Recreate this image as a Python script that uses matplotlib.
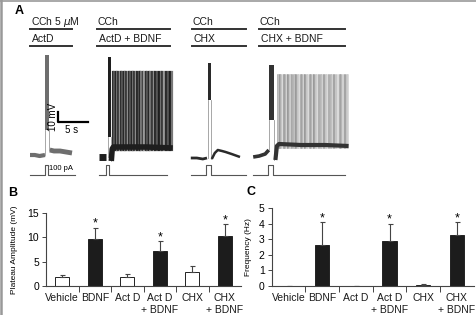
import matplotlib.pyplot as plt

plt.rcParams['font.family'] = ['Liberation Sans', 'DejaVu Sans']

W, H = 477, 315

# ---------------- panel A: example traces (s, mV, pA) ----------------
cond_top = ['CCh 5 $\\mu$M', 'CCh', 'CCh', 'CCh']
cond_bottom = ['ActD', 'ActD + BDNF', 'CHX', 'CHX + BDNF']

# trace 1: ActD
t1_pre, v1_pre = [0.0, 0.8, 1.6, 2.5], [-60, -60, -61, -60]
t1_burst, v1_burst = [2.55, 3.15], [-35, 40]
t1_post, v1_post = [3.3, 4.0, 5.0, 6.0, 7.0], [-55, -56, -56, -57, -58]
t1_spikes = []

# trace 2: ActD + BDNF
t2_pre, v2_pre = [0.0, 0.6, 1.2], [-62, -62, -62]
t2_burst, v2_burst = [1.45, 2.0], [-42, 38]
t2_post, v2_post = [2.05, 2.2, 2.4, 4.0, 8.0, 12.3], [-66, -54, -52, -52, -52, -53]
t2_spikes = [2.35, 2.55, 2.8, 3.0, 3.2, 3.45, 3.65, 3.9, 4.1, 4.3, 4.55, 4.75,
             5.0, 5.2, 5.45, 5.65, 5.9, 6.1, 6.35, 6.6, 6.8, 7.05, 7.3, 7.55,
             7.8, 8.05, 8.3, 8.55, 8.8, 9.1, 9.35, 9.65, 9.95, 10.25, 10.55,
             10.85, 11.2, 11.5, 11.85, 12.15]

# trace 3: CHX
t3_pre, v3_pre = [0.0, 1.0, 2.0, 2.7], [-63, -63, -64, -63]
t3_burst, v3_burst = [2.8, 3.3], [-5, 32]
t3_post, v3_post = [3.5, 4.0, 4.5, 5.2, 5.8, 6.8, 8.2], [-64, -58, -55, -56, -57, -59, -62]
t3_spikes = []

# trace 4: CHX + BDNF
t4_pre, v4_pre = [0.0, 1.0, 2.0, 2.6], [-62, -61, -59, -55]
t4_burst, v4_burst = [2.65, 3.45], [-25, 30]
t4_post, v4_post = [3.7, 3.95, 4.3, 8.0, 12.0, 15.9], [-65, -51, -49, -50, -50, -51]
t4_spikes = [4.05, 4.25, 4.5, 4.7, 4.9, 5.15, 5.35, 5.6, 5.8, 6.05, 6.3, 6.5,
             6.75, 7.0, 7.2, 7.45, 7.7, 7.95, 8.2, 8.4, 8.65, 8.9, 9.15, 9.4,
             9.65, 9.9, 10.15, 10.45, 10.7, 10.95, 11.25, 11.5, 11.8, 12.05,
             12.35, 12.6, 12.9, 13.2, 13.5, 13.8, 14.1, 14.4, 14.7, 15.0, 15.3,
             15.6, 15.8]

spike_trough = [-56, -55, -56, -53]
spike_peak = [23, 23, 22, 20]

# current injection
cur_dur = [7.5, 11.3, 9.2, 15.3]
pulse_on = [2.5, 1.2, 2.6, 2.5]
pulse_off = [3.0, 1.7, 3.3, 3.3]
pulse_amp = 100  # pA

# ---------------- panels B and C ----------------
groups = ['Vehicle', 'BDNF', 'Act D', 'Act D\n+ BDNF', 'CHX', 'CHX\n+ BDNF']
plateau = [1.8, 9.6, 1.9, 7.2, 2.9, 10.3]
plateau_sem = [0.5, 2.4, 0.6, 2.0, 1.2, 2.4]
freq = [0.02, 2.65, 0.01, 2.9, 0.08, 3.3]
freq_sem = [0.0, 1.45, 0.0, 1.1, 0.04, 0.8]
signif = [False, True, False, True, False, True]
has_bdnf = [False, True, False, True, False, True]

fig = plt.figure(figsize=(W / 100, H / 100), dpi=100)

# overlay in pixel coords for frame / labels
ov = fig.add_axes([0, 0, 1, 1])
ov.set_xlim(0, W)
ov.set_ylim(H, 0)
ov.axis('off')
ov.plot([0, W], [0.5, 0.5], color='#999999', lw=1.2)
ov.plot([0.8, 0.8], [0, H], color='#999999', lw=1.8)
ov.text(15, 11, 'A', fontsize=9, fontweight='bold', va='center')
ov.text(8, 193, 'B', fontsize=9, fontweight='bold', va='center')
ov.text(247, 192, 'C', fontsize=9, fontweight='bold', va='center')

bar_x = [(30, 72), (97, 170), (192, 246), (259, 345)]
for (x0, x1), top, bot in zip(bar_x, cond_top, cond_bottom):
    ov.text(x0 + 1, 22, top, fontsize=7.5, va='center', color='#1a1a1a')
    ov.plot([x0, x1], [29, 29], color='#333333', lw=1.4)
    ov.text(x0 + 2, 39, bot, fontsize=7.5, va='center', color='#1a1a1a')
    ov.plot([x0, x1], [46, 46], color='#333333', lw=1.4)

# traces axes: 6 px per s, 1 px per mV
ax_a = fig.add_axes([0, 1 - 185 / H, 1, 185 / H])
ax_a.set_xlim(0, W / 6)
ax_a.set_ylim(-90, 95)
ax_a.axis('off')

t0s = [5.0, 16.5, 31.8, 42.2]
traces = [
    (t1_pre, v1_pre, t1_burst, v1_burst, t1_post, v1_post, t1_spikes),
    (t2_pre, v2_pre, t2_burst, v2_burst, t2_post, v2_post, t2_spikes),
    (t3_pre, v3_pre, t3_burst, v3_burst, t3_post, v3_post, t3_spikes),
    (t4_pre, v4_pre, t4_burst, v4_burst, t4_post, v4_post, t4_spikes),
]
main_col = ['#6e6e6e', '#1e1e1e', '#2a2a2a', '#333333']
spike_cols = [['#777777'],
              ['#2a2a2a', '#555555', '#1e1e1e', '#777777', '#3a3a3a', '#999999'],
              ['#333333'],
              ['#a0a0a0', '#c4c4c4', '#8a8a8a', '#b4b4b4', '#d0d0d0', '#999999']]
spike_lw = [0.8, 1.6, 0.8, 1.1]
pre_lw = [3.0, 5.0, 2.0, 2.6]
post_lw = [3.5, 4.0, 1.8, 3.0]

for i, (tp, vp, tb, vb, tq, vq, ts) in enumerate(traces):
    t0 = t0s[i]
    c = main_col[i]
    for k, s in enumerate(ts):
        ax_a.plot([t0 + s, t0 + s], [spike_trough[i], spike_peak[i]],
                  color=spike_cols[i][k % len(spike_cols[i])], lw=spike_lw[i])
    ax_a.plot([t0 + x for x in tp], vp, color=c, lw=pre_lw[i], solid_capstyle='butt')
    ax_a.plot([t0 + tb[0]] * 2, [vp[-1], vb[0]], color='#999999', lw=0.6)
    ax_a.plot([t0 + tb[1]] * 2, [vb[0], vq[0]], color='#999999', lw=0.6)
    ax_a.fill_between([t0 + tb[0], t0 + tb[1]], vb[0], vb[1], color=c, lw=0)
    ax_a.plot([t0 + x for x in tq], vq, color=c, lw=post_lw[i], solid_capstyle='butt')
    # current step, drawn 10 pA per mV-unit below
    ct = [0, pulse_on[i], pulse_on[i], pulse_off[i], pulse_off[i], cur_dur[i]]
    ci = [0, 0, pulse_amp, pulse_amp, 0, 0]
    ax_a.plot([t0 + x for x in ct], [-80 + y * 0.1 for y in ci],
              color='#555555', lw=0.8)

# scale bars
ax_a.plot([9.67, 9.67, 14.67], [-17, -27, -27], color='black', lw=1.6)
ax_a.text(8.9, -22, '10 mV', rotation=90, fontsize=7, ha='center', va='center')
ax_a.text(12.0, -35, '5 s', fontsize=7, ha='center', va='center')
ax_a.text(8.1, -74, '100 pA', fontsize=5.5, ha='left', va='center')


def bar_panel(rect, vals, sem, ylim, yticks, ylabel, pad):
    ax = fig.add_axes(rect)
    x = list(range(len(groups)))
    cols = ['#1c1c1c' if b else 'white' for b in has_bdnf]
    ax.bar(x, vals, width=0.42, color=cols, edgecolor='#222222', linewidth=0.7)
    ax.errorbar(x, vals, yerr=[[0] * len(vals), sem], fmt='none',
                ecolor='#444444', elinewidth=0.8, capsize=1.8, capthick=0.8)
    for xi, v, e, s in zip(x, vals, sem, signif):
        if s:
            ax.annotate('*', (xi, v + e), xytext=(0, -1.5), textcoords='offset points',
                        ha='center', va='bottom', fontsize=9)
    ax.set_xlim(-0.5, len(groups) - 0.5)
    ax.set_ylim(*ylim)
    ax.set_yticks(yticks)
    ax.set_xticks(x)
    ax.set_xticklabels(groups, fontsize=7.5, color='#1a1a1a')
    ax.set_xticks([k + 0.5 for k in x[:-1]], minor=True)
    ax.tick_params(axis='x', which='major', length=0, pad=5)
    ax.tick_params(axis='x', which='minor', length=4, width=0.7, color='#444444')
    ax.tick_params(axis='y', length=3, width=0.7, labelsize=7.5, pad=2, color='#444444')
    for sp in ['top', 'right']:
        ax.spines[sp].set_visible(False)
    for sp in ['left', 'bottom']:
        ax.spines[sp].set_color('#444444')
        ax.spines[sp].set_linewidth(0.8)
    ax.set_ylabel(ylabel, fontsize=6, labelpad=pad)
    ax.patch.set_visible(False)
    return ax


bar_panel([46 / W, 29 / H, 195 / W, 73 / H], plateau, plateau_sem,
          (0, 15), [0, 5, 10, 15], 'Plateau Amplitude (mV)', 7)
bar_panel([271.7 / W, 29 / H, 202 / W, 77.7 / H], freq, freq_sem,
          (0, 5), [0, 1, 2, 3, 4, 5], 'Frequency (Hz)', 5)

fig.savefig('out.png', dpi=100)
